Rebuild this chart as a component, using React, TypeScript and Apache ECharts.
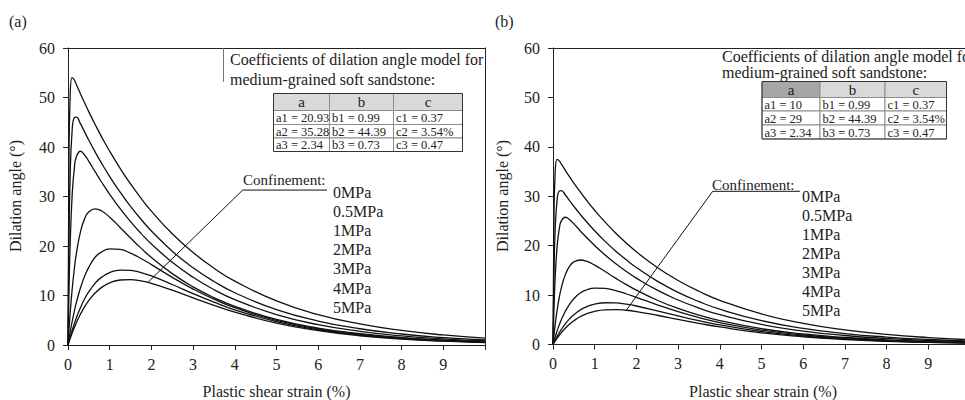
import { useEffect, useRef } from "react";
import * as echarts from "echarts";

// ---- data ----
const strain = [0, 0.02, 0.05, 0.1, 0.15, 0.2, 0.3, 0.4, 0.5, 0.65, 0.8, 1, 1.25, 1.5, 1.75, 2, 2.5, 3, 3.5, 4, 5, 6, 7, 8, 9, 10];
const confinements = ["0MPa", "0.5MPa", "1MPa", "2MPa", "3MPa", "4MPa", "5MPa"];

const leftC0 = [0, 33.39, 49.77, 54.0, 53.55, 52.63, 50.72, 48.87, 47.1, 44.56, 42.15, 39.14, 35.69, 32.53, 29.66, 27.04, 22.47, 18.68, 15.52, 12.9, 8.91, 6.15, 4.25, 2.94, 2.03, 1.4];
const leftC05 = [0, 18.37, 33.67, 43.48, 45.9, 46.02, 44.67, 43.0, 41.36, 39.01, 36.79, 34.03, 30.87, 28.0, 25.4, 23.04, 18.96, 15.6, 12.84, 10.56, 7.15, 4.84, 3.28, 2.22, 1.5, 1.02];
const leftC1 = [0, 9.52, 19.93, 30.32, 35.56, 38.02, 39.14, 38.37, 37.09, 35.01, 32.98, 30.45, 27.55, 24.93, 22.56, 20.41, 16.71, 13.68, 11.2, 9.17, 6.15, 4.12, 2.76, 1.85, 1.24, 0.83];
const leftC2 = [0, 2.65, 6.24, 11.25, 15.26, 18.45, 22.91, 25.53, 26.9, 27.52, 27.12, 25.83, 23.75, 21.61, 19.57, 17.69, 14.42, 11.75, 9.57, 7.8, 5.17, 3.43, 2.28, 1.51, 1.0, 0.67];
const leftC3 = [0, 1.03, 2.5, 4.75, 6.76, 8.55, 11.56, 13.92, 15.74, 17.72, 18.77, 19.42, 19.31, 18.56, 17.48, 16.24, 13.67, 11.3, 9.25, 7.53, 4.97, 3.27, 2.15, 1.41, 0.93, 0.61];
const leftC4 = [0, 0.63, 1.54, 2.96, 4.27, 5.47, 7.57, 9.33, 10.78, 12.46, 13.66, 14.64, 15.14, 15.08, 14.64, 13.95, 12.22, 10.38, 8.65, 7.12, 4.72, 3.08, 2.0, 1.29, 0.83, 0.54];
const leftC5 = [0, 0.51, 1.25, 2.42, 3.49, 4.49, 6.25, 7.75, 9.0, 10.49, 11.59, 12.55, 13.13, 13.21, 12.95, 12.45, 11.07, 9.51, 8.0, 6.63, 4.42, 2.89, 1.87, 1.2, 0.77, 0.49];

const rightC0 = [0, 23.17, 34.53, 37.47, 37.15, 36.51, 35.19, 33.91, 32.68, 30.92, 29.24, 27.16, 24.76, 22.57, 20.58, 18.76, 15.59, 12.96, 10.77, 8.95, 6.18, 4.27, 2.95, 2.04, 1.41, 0.97];
const rightC05 = [0, 12.42, 22.77, 29.4, 31.04, 31.12, 30.21, 29.08, 27.97, 26.38, 24.88, 23.01, 20.87, 18.93, 17.18, 15.58, 12.82, 10.55, 8.68, 7.14, 4.83, 3.27, 2.22, 1.5, 1.01, 0.69];
const rightC1 = [0, 6.26, 13.11, 19.95, 23.39, 25.01, 25.75, 25.24, 24.4, 23.03, 21.7, 20.03, 18.13, 16.4, 14.84, 13.43, 10.99, 9.0, 7.37, 6.03, 4.05, 2.71, 1.82, 1.22, 0.82, 0.55];
const rightC2 = [0, 1.65, 3.88, 6.99, 9.48, 11.47, 14.24, 15.87, 16.72, 17.1, 16.86, 16.05, 14.76, 13.43, 12.16, 10.99, 8.96, 7.3, 5.95, 4.85, 3.21, 2.13, 1.42, 0.94, 0.62, 0.42];
const rightC3 = [0, 0.61, 1.47, 2.79, 3.97, 5.02, 6.79, 8.18, 9.25, 10.41, 11.03, 11.41, 11.35, 10.91, 10.27, 9.54, 8.03, 6.64, 5.44, 4.42, 2.92, 1.92, 1.26, 0.83, 0.55, 0.36];
const rightC4 = [0, 0.35, 0.86, 1.65, 2.38, 3.05, 4.23, 5.21, 6.02, 6.96, 7.63, 8.17, 8.45, 8.42, 8.17, 7.79, 6.82, 5.79, 4.83, 3.97, 2.63, 1.72, 1.12, 0.72, 0.46, 0.3];
const rightC5 = [0, 0.27, 0.67, 1.29, 1.87, 2.4, 3.34, 4.15, 4.81, 5.61, 6.2, 6.71, 7.02, 7.07, 6.93, 6.66, 5.92, 5.09, 4.28, 3.55, 2.36, 1.55, 1.0, 0.64, 0.41, 0.26];

const leftCurves = [leftC0, leftC05, leftC1, leftC2, leftC3, leftC4, leftC5];
const rightCurves = [rightC0, rightC05, rightC1, rightC2, rightC3, rightC4, rightC5];

// leader line of the "Confinement:" annotation (data coordinates)
const leftLeader = [[6.21, 31.3], [4.19, 31.3], [1.92, 12.7]];
const rightLeader = [[5.92, 31.0], [3.83, 31.0], [1.745, 6.8]];

const tableHeader = ["a", "b", "c"];
const leftTableRows = [
  ["a1 = 20.93", "b1 = 0.99", "c1 = 0.37"],
  ["a2 = 35.28", "b2 = 44.39", "c2 = 3.54%"],
  ["a3 = 2.34", "b3 = 0.73", "c3 = 0.47"],
];
const rightTableRows = [
  ["a1 = 10", "b1 = 0.99", "c1 = 0.37"],
  ["a2 = 29", "b2 = 44.39", "c2 = 3.54%"],
  ["a3 = 2.34", "b3 = 0.73", "c3 = 0.47"],
];
const tableTitle = ["Coefficients of dilation angle model for", "medium-grained soft sandstone:"];

// ---- styling ----
const SERIF = "Liberation Serif, Times New Roman, serif";
const INK = "#222";

function table(cols: number[], rowsY: number[], rows: string[][], headerFills: string[]) {
  const els: any[] = [];
  for (let j = 0; j < 3; j++) {
    els.push({
      type: "rect",
      shape: { x: cols[j], y: rowsY[0], width: cols[j + 1] - cols[j], height: rowsY[1] - rowsY[0] },
      style: { fill: headerFills[j], stroke: "#8c8c8c", lineWidth: 1 },
      z: 10,
    });
    els.push({
      type: "text",
      x: (cols[j] + cols[j + 1]) / 2,
      y: (rowsY[0] + rowsY[1]) / 2,
      style: { text: tableHeader[j], fontSize: 15, fontFamily: SERIF, fill: INK, align: "center", verticalAlign: "middle" },
      z: 11,
    });
  }
  for (let i = 0; i < rows.length; i++) {
    for (let j = 0; j < 3; j++) {
      els.push({
        type: "rect",
        shape: { x: cols[j], y: rowsY[i + 1], width: cols[j + 1] - cols[j], height: rowsY[i + 2] - rowsY[i + 1] },
        style: { fill: "#fff", stroke: "#8c8c8c", lineWidth: 1 },
        z: 10,
      });
      els.push({
        type: "text",
        x: cols[j] + 2.5,
        y: (rowsY[i + 1] + rowsY[i + 2]) / 2 + 0.5,
        style: { text: rows[i][j], fontSize: 12.5, fontFamily: SERIF, fill: INK, align: "left", verticalAlign: "middle" },
        z: 11,
      });
    }
  }
  els.push({
    type: "rect",
    shape: { x: cols[0], y: rowsY[0], width: cols[3] - cols[0], height: rowsY[rowsY.length - 1] - rowsY[0] },
    style: { fill: "none", stroke: "#333", lineWidth: 1 },
    z: 12,
  });
  return els;
}

function txt(text: string, x: number, y: number, size: number, align = "left", rotation = 0) {
  return {
    type: "text",
    x,
    y,
    rotation,
    style: { text, fontSize: size, fontFamily: SERIF, fill: INK, align, verticalAlign: "middle" },
    z: 20,
  };
}

function axesFor(grid: number) {
  const line = { show: true, onZero: false, lineStyle: { color: INK, width: 1 } };
  const xs = [
    {
      gridIndex: grid,
      type: "value",
      min: 0,
      max: 10,
      interval: 1,
      axisLine: line,
      axisTick: { show: true, length: 5, lineStyle: { color: INK } },
      axisLabel: {
        fontSize: 16,
        fontFamily: SERIF,
        color: INK,
        margin: 11,
        formatter: (v: number) => (v >= 10 ? "" : String(v)),
      },
      splitLine: { show: false },
    },
    {
      gridIndex: grid,
      type: "value",
      position: "top",
      min: 0,
      max: 10,
      axisLine: line,
      axisTick: { show: false },
      axisLabel: { show: false },
      splitLine: { show: false },
    },
  ];
  const ys = [
    {
      gridIndex: grid,
      type: "value",
      min: 0,
      max: 60,
      interval: 10,
      axisLine: line,
      axisTick: { show: true, length: 5, lineStyle: { color: INK } },
      axisLabel: { fontSize: 16, fontFamily: SERIF, color: INK, margin: 13 },
      splitLine: { show: false },
    },
    {
      gridIndex: grid,
      type: "value",
      position: "right",
      min: 0,
      max: 60,
      axisLine: line,
      axisTick: { show: false },
      axisLabel: { show: false },
      splitLine: { show: false },
    },
  ];
  return { xs, ys };
}

export default function App() {
  const ref = useRef<HTMLDivElement>(null);

  useEffect(() => {
    if (!ref.current) return;
    const chart = echarts.init(ref.current, undefined, { renderer: "svg" });
    const a = axesFor(0);
    const b = axesFor(1);

    const curveSeries = (curves: number[][], axisBase: number) =>
      curves.map((c, k) => ({
        name: confinements[k],
        type: "line",
        xAxisIndex: axisBase,
        yAxisIndex: axisBase,
        data: strain.map((x, i) => [x, c[i]]),
        smooth: 0.5,
        symbol: "none",
        lineStyle: { color: "#111", width: 1.3 },
        z: 3,
      }));

    const leaderSeries = (pts: number[][], axisBase: number) => ({
      type: "line",
      xAxisIndex: axisBase,
      yAxisIndex: axisBase,
      data: pts,
      symbol: "none",
      lineStyle: { color: "#111", width: 1 },
      z: 4,
    });

    const leftLabelY0 = 192.5;
    const rightLabelY0 = 196;

    const graphic: any[] = [
      txt("(a)", 9, 21.5, 16),
      txt("(b)", 495, 21.5, 16),
      txt("Dilation angle (°)", 15, 196, 16, "center", Math.PI / 2),
      txt("Dilation angle (°)", 502, 196, 16, "center", Math.PI / 2),
      txt("Plastic shear strain (%)", 276.5, 391, 16, "center"),
      txt("Plastic shear strain (%)", 763, 391.5, 16, "center"),
      txt(tableTitle[0], 230, 59, 16),
      txt(tableTitle[1], 230, 79, 16),
      txt(tableTitle[0], 722, 56, 16),
      txt(tableTitle[1], 722, 72.5, 16),
      txt("Confinement:", 243, 180, 15),
      txt("Confinement:", 712, 184.5, 15),
      {
        type: "line",
        shape: { x1: 223.5, y1: 48, x2: 223.5, y2: 82 },
        style: { stroke: "#777", lineWidth: 1 },
        z: 5,
      },
      ...confinements.map((t, k) => txt(t, 333, leftLabelY0 + k * 19.1, 16)),
      ...confinements.map((t, k) => txt(t, 802, rightLabelY0 + k * 19.0, 16)),
      ...table([273.5, 329.5, 393.5, 462.5], [93.5, 110.5, 124.5, 138, 151.5], leftTableRows, ["#d9d9d9", "#d9d9d9", "#d9d9d9"]),
      ...table([762, 820, 885, 946.5], [81.5, 97.5, 111, 125, 139], rightTableRows, ["#a6a6a6", "#d9d9d9", "#d9d9d9"]),
    ];

    chart.setOption({
      animation: false,
      backgroundColor: "#fff",
      grid: [
        { left: 68, top: 48, width: 417, height: 297 },
        { left: 553, top: 48, width: 417, height: 296.5 },
      ],
      xAxis: [...a.xs, ...b.xs],
      yAxis: [...a.ys, ...b.ys],
      series: [
        ...curveSeries(leftCurves, 0),
        leaderSeries(leftLeader, 0),
        ...curveSeries(rightCurves, 2),
        leaderSeries(rightLeader, 2),
      ],
      graphic,
    });
    return () => chart.dispose();
  }, []);

  return (
    <div style={{ position: "fixed", left: 0, top: 0, width: 965, height: 400, overflow: "hidden", background: "#fff" }}>
      <div ref={ref} style={{ width: 980, height: 400 }} />
    </div>
  );
}
